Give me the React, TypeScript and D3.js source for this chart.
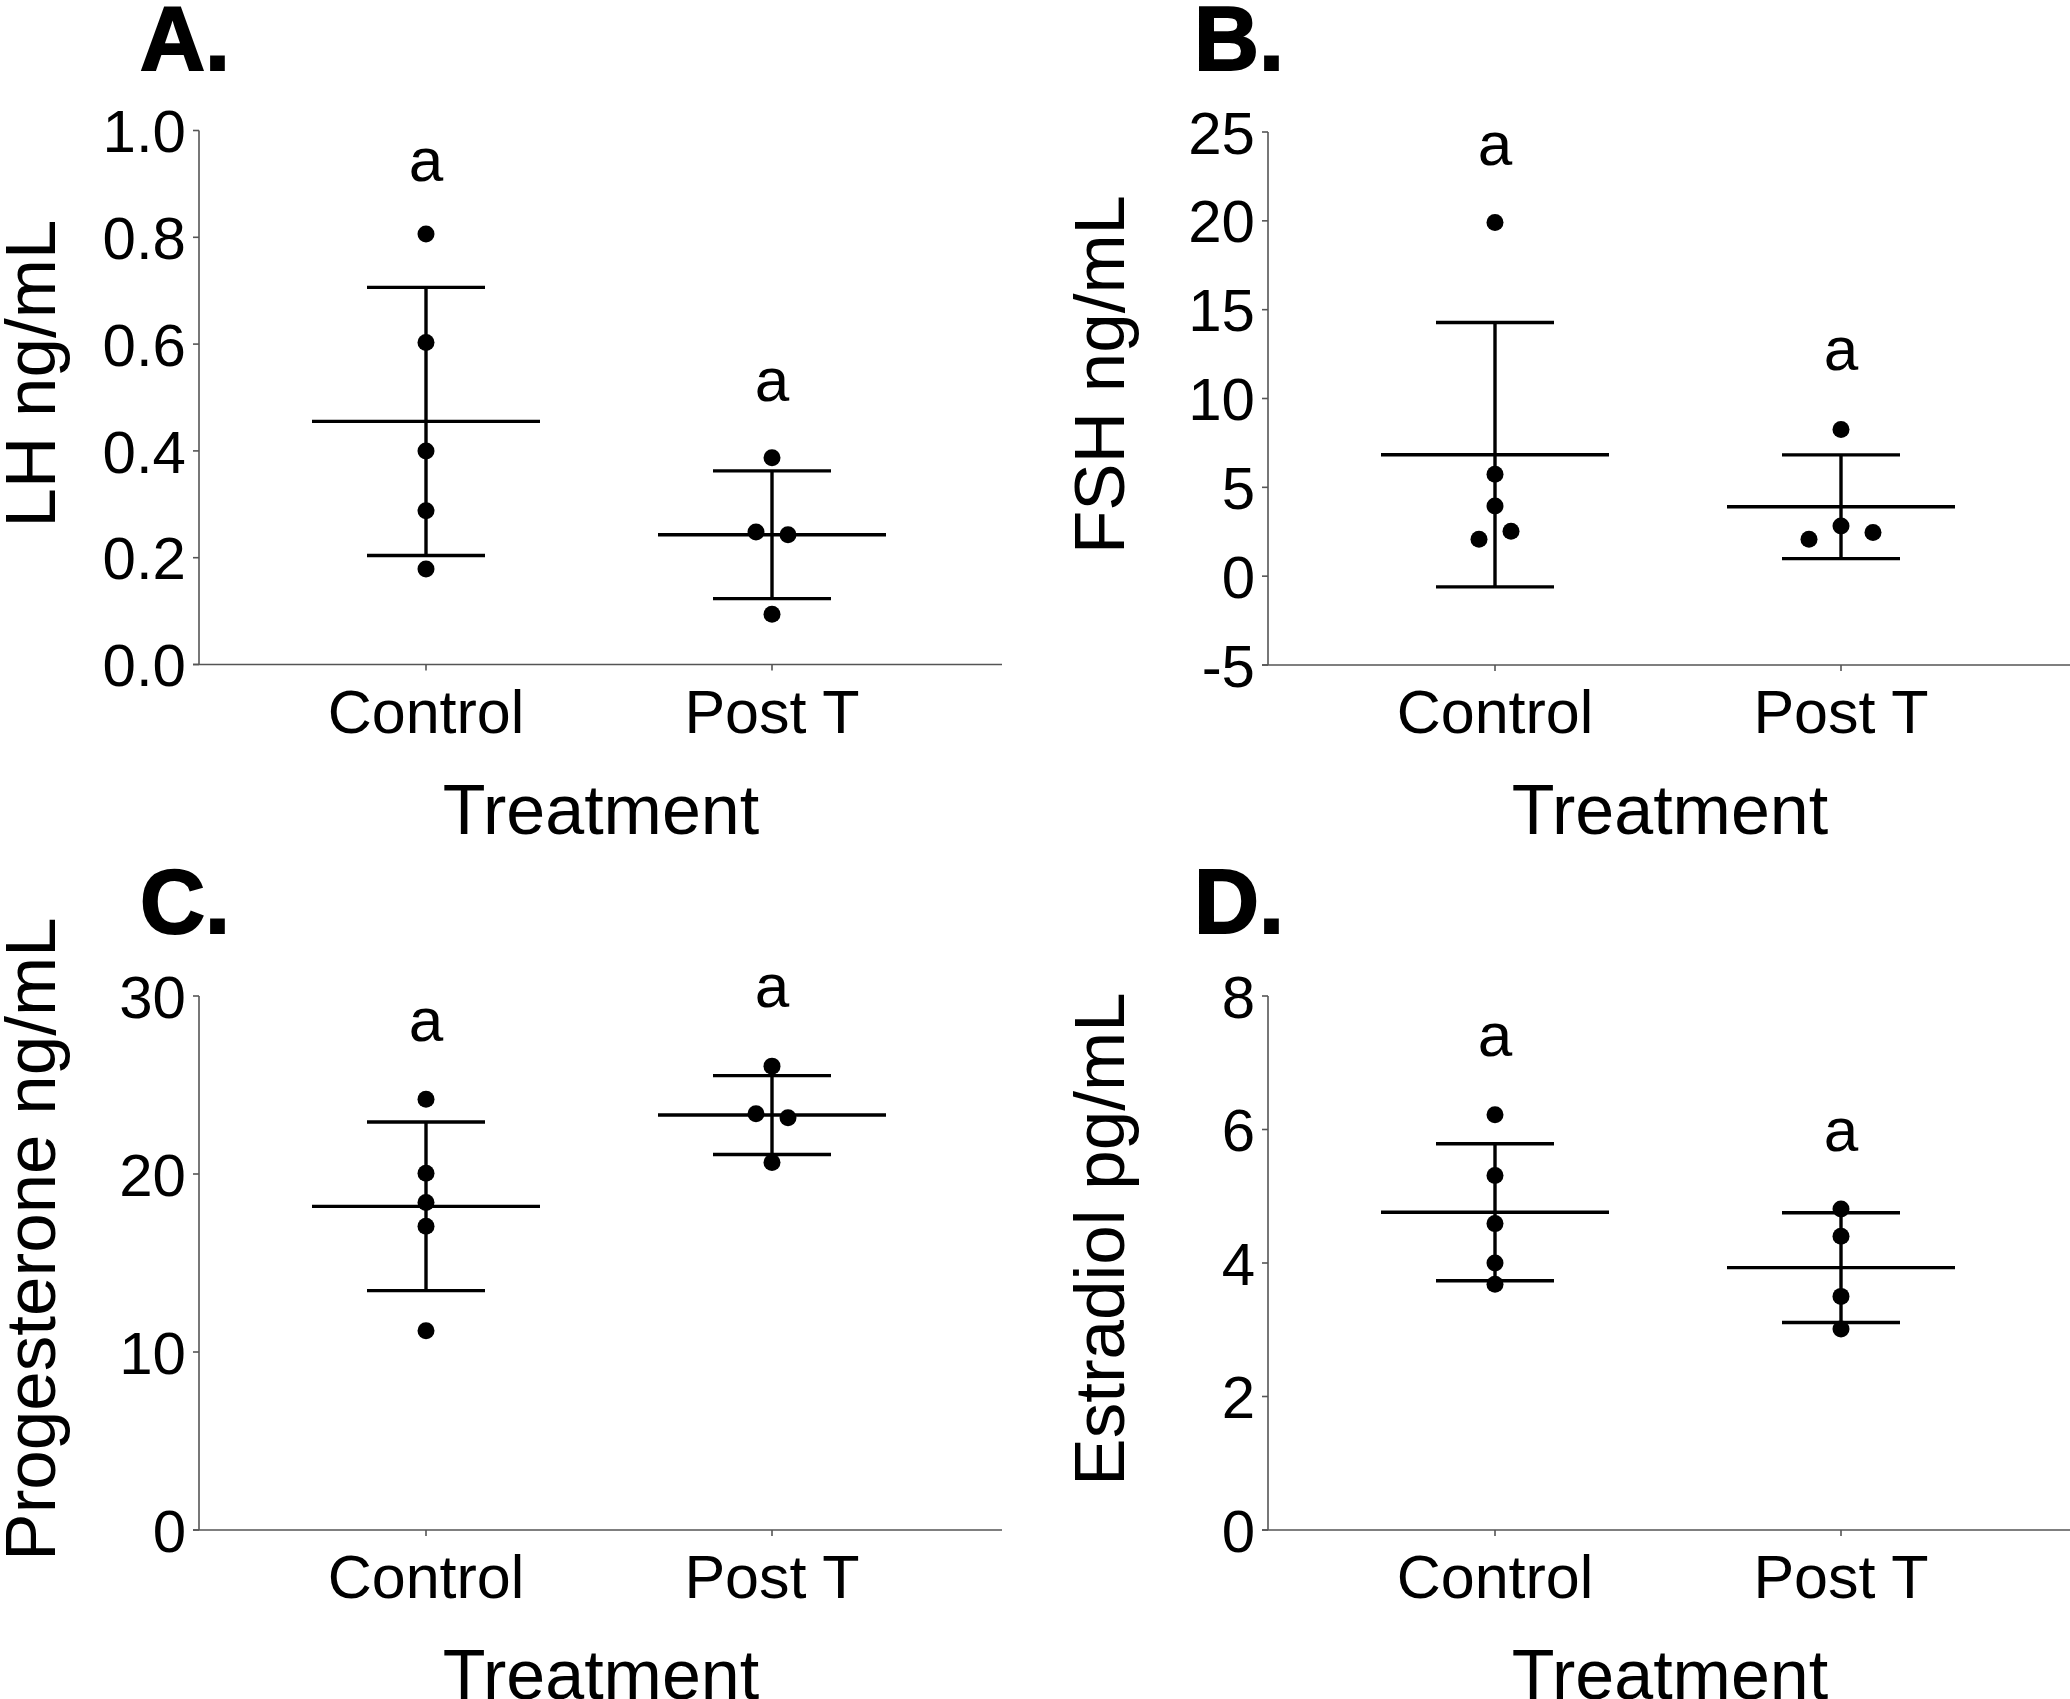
import React from "react";
import * as d3 from "d3";

const categories = ["Control", "Post T"];

// Panel A: LH ng/mL
const lhControl = [0.806, 0.603, 0.4, 0.288, 0.179];
const lhPostT = [0.387, 0.248, 0.243, 0.094];
const lhTicks = [0, 0.2, 0.4, 0.6, 0.8, 1.0];
const lhLetters = [0.905, 0.493];

// Panel B: FSH ng/mL
const fshControl = [19.9, 5.73, 3.95, 2.08, 2.53];
const fshPostT = [8.26, 2.08, 2.83, 2.46];
const fshTicks = [-5, 0, 5, 10, 15, 20, 25];
const fshLetters = [23.14, 11.6];

// Panel C: Progesterone ng/mL
const progControl = [24.2, 20.04, 18.4, 17.07, 11.2];
const progPostT = [26.06, 23.39, 23.16, 20.64];
const progTicks = [0, 10, 20, 30];
const progLetters = [27.5, 29.4];

// Panel D: Estradiol pg/mL
const e2Control = [6.22, 5.31, 4.59, 4.0, 3.68];
const e2PostT = [4.81, 4.4, 3.5, 3.01];
const e2Ticks = [0, 2, 4, 6, 8];
const e2Letters = [7.1, 5.68];

const FONT = "'Liberation Sans', Arial, Helvetica, sans-serif";

type PanelProps = {
  letter: string;
  letterX: number;
  letterY: number;
  left: number;
  right: number;
  top: number;
  bottom: number;
  domain: [number, number];
  ticks: number[];
  fmt: (v: number) => string;
  groups: number[][];
  letters: number[];
  yTitle: string;
};

function swarm(values: number[], y: (v: number) => number, diam: number, step: number) {
  const idx = values.map((v, i) => ({ v, i, py: y(v) }));
  const sorted = [...idx].sort((a, b) => a.py - b.py);
  const clusters: typeof idx[] = [];
  sorted.forEach((p) => {
    const last = clusters[clusters.length - 1];
    if (last && Math.abs(p.py - last[last.length - 1].py) < diam) last.push(p);
    else clusters.push([p]);
  });
  const offsets = new Array(values.length).fill(0);
  clusters.forEach((c) => {
    const ord = [...c].sort((a, b) => a.i - b.i);
    ord.forEach((p, k) => {
      offsets[p.i] = (k - (ord.length - 1) / 2) * step;
    });
  });
  return offsets;
}

function Panel(p: PanelProps) {
  const y = d3.scaleLinear().domain(p.domain).range([p.bottom, p.top]);
  const x = d3
    .scalePoint<string>()
    .domain(categories)
    .range([p.left + 227, p.left + 573]);
  const r = 8.5;
  const capHalf = 59;
  const meanHalf = 114;
  const sw = 3.4;
  return (
    <g fontFamily={FONT}>
      <text x={p.letterX} y={p.letterY} fontSize={90} fontWeight="bold" fill="#000" stroke="#000" strokeWidth={2}>
        {p.letter}
      </text>
      {/* y axis */}
      <line x1={p.left} x2={p.left} y1={p.top} y2={p.bottom} stroke="#555" strokeWidth={1.6} />
      {p.ticks.map((t) => (
        <g key={t}>
          <line x1={p.left - 6} x2={p.left} y1={y(t)} y2={y(t)} stroke="#555" strokeWidth={1.6} />
          <text
            x={p.left - 13}
            y={y(t)}
            dy="0.36em"
            textAnchor="end"
            fontSize={60}
            fill="#000"
          >
            {p.fmt(t)}
          </text>
        </g>
      ))}
      {/* x axis */}
      <line x1={p.left - 6} x2={p.right} y1={p.bottom} y2={p.bottom} stroke="#555" strokeWidth={1.6} />
      {categories.map((c) => (
        <g key={c}>
          <line x1={x(c)!} x2={x(c)!} y1={p.bottom} y2={p.bottom + 6} stroke="#555" strokeWidth={1.6} />
          <text x={x(c)!} y={p.bottom + 68} textAnchor="middle" fontSize={61} fill="#000">
            {c}
          </text>
        </g>
      ))}
      <text
        x={p.left + 402}
        y={p.bottom + 169}
        textAnchor="middle"
        fontSize={70}
        fill="#000"
      >
        Treatment
      </text>
      <text
        transform={`translate(${p.left - 144},${(p.top + p.bottom) / 2 - 24}) rotate(-90)`}
        textAnchor="middle"
        fontSize={71}
        fill="#000"
      >
        {p.yTitle}
      </text>
      {p.groups.map((vals, gi) => {
        const cx = x(categories[gi])!;
        const m = d3.mean(vals)!;
        const sd = d3.deviation(vals)!;
        const offs = swarm(vals, y, 2 * r, 32);
        return (
          <g key={gi}>
            <line x1={cx} x2={cx} y1={y(m + sd)} y2={y(m - sd)} stroke="#000" strokeWidth={sw} />
            <line x1={cx - capHalf} x2={cx + capHalf} y1={y(m + sd)} y2={y(m + sd)} stroke="#000" strokeWidth={sw} />
            <line x1={cx - capHalf} x2={cx + capHalf} y1={y(m - sd)} y2={y(m - sd)} stroke="#000" strokeWidth={sw} />
            <line x1={cx - meanHalf} x2={cx + meanHalf} y1={y(m)} y2={y(m)} stroke="#000" strokeWidth={sw} />
            {vals.map((v, i) => (
              <circle key={i} cx={cx + offs[i]} cy={y(v)} r={r} fill="#000" />
            ))}
            <text x={cx} y={y(p.letters[gi])} textAnchor="middle" fontSize={62} fill="#000">
              a
            </text>
          </g>
        );
      })}
    </g>
  );
}

export default function App() {
  const f1 = d3.format(".1f");
  const f0 = (v: number) => String(v);
  return (
    <svg
      width={2070}
      height={1699}
      style={{ position: "absolute", left: 0, top: 0, background: "#fff" }}
    >
      <rect width={2070} height={1699} fill="#fff" />
      <Panel
        letter="A."
        letterX={140}
        letterY={70}
        left={199}
        right={1002}
        top={130.5}
        bottom={664.5}
        domain={[0, 1]}
        ticks={lhTicks}
        fmt={f1}
        groups={[lhControl, lhPostT]}
        letters={lhLetters}
        yTitle="LH ng/mL"
      />
      <Panel
        letter="B."
        letterX={1194}
        letterY={70}
        left={1268}
        right={2070}
        top={132}
        bottom={665}
        domain={[-5, 25]}
        ticks={fshTicks}
        fmt={f0}
        groups={[fshControl, fshPostT]}
        letters={fshLetters}
        yTitle="FSH ng/mL"
      />
      <Panel
        letter="C."
        letterX={140}
        letterY={933}
        left={199}
        right={1002}
        top={996}
        bottom={1530}
        domain={[0, 30]}
        ticks={progTicks}
        fmt={f0}
        groups={[progControl, progPostT]}
        letters={progLetters}
        yTitle="Progesterone ng/mL"
      />
      <Panel
        letter="D."
        letterX={1194}
        letterY={933}
        left={1268}
        right={2070}
        top={996}
        bottom={1530}
        domain={[0, 8]}
        ticks={e2Ticks}
        fmt={f0}
        groups={[e2Control, e2PostT]}
        letters={e2Letters}
        yTitle="Estradiol pg/mL"
      />
    </svg>
  );
}
